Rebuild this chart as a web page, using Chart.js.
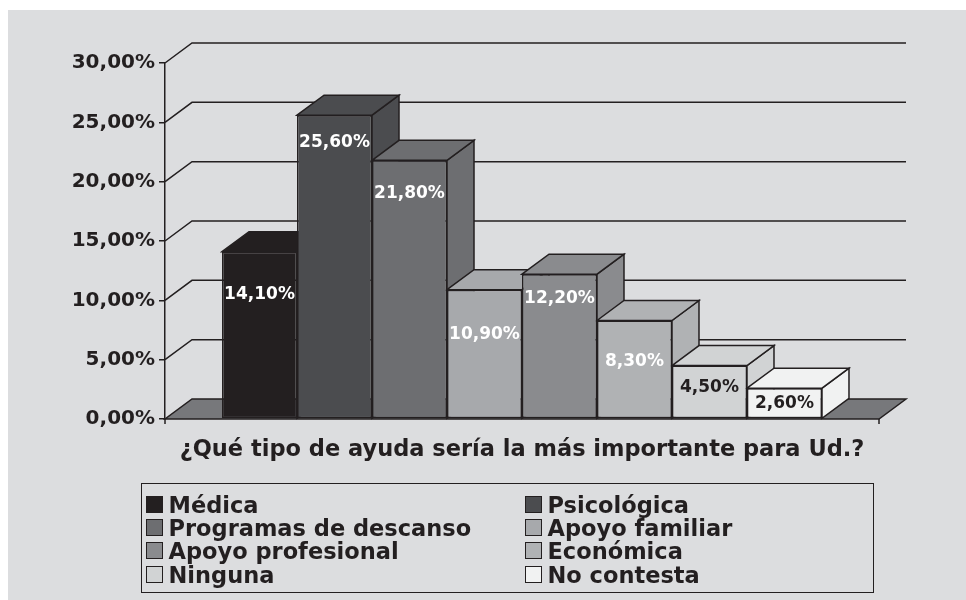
<!DOCTYPE html>
<html>
<head>
<meta charset="utf-8">
<script src="https://cdn.jsdelivr.net/npm/chart.js@4.4.1/dist/chart.umd.min.js"></script>
<style>
  html, body { margin: 0; padding: 0; background: #fff; width: 966px; height: 600px; overflow: hidden; }
  #bg { position: absolute; left: 8px; top: 10px; right: 0; bottom: 0; background: #dcdddf; }
  #wrap { position: absolute; left: 0; top: 0; width: 966px; height: 600px; }
  #legend { position: absolute; left: 141px; top: 483px; width: 733px; height: 110px; box-sizing: border-box;
            border: 1.5px solid #231f20; font: bold 22.5px 'DejaVu Sans', sans-serif; color: #231f20; }
  .li { position: absolute; white-space: nowrap; line-height: 24px; }
  .sw { display: inline-block; width: 17px; height: 17px; box-sizing: border-box; border: 1px solid #231f20;
        margin-right: 6px; vertical-align: baseline; }
</style>
</head>
<body>
<div id="bg"></div>
<div id="wrap"><canvas id="c" width="966" height="600"></canvas></div>
<div id="legend"></div>
<script>
/* 3D-look clustered column: one category, eight series, back wall + floor drawn by a plugin */
const axisTitle = "¿Qué tipo de ayuda sería la más importante para Ud.?";
const seriesNames = ["Médica", "Psicológica", "Programas de descanso", "Apoyo familiar",
                     "Apoyo profesional", "Económica", "Ninguna", "No contesta"];
const seriesValues = [14.1, 25.6, 21.8, 10.9, 12.2, 8.3, 4.5, 2.6];
const yTicks = [0, 5, 10, 15, 20, 25, 30];

// styles
const fills = ["#231f20", "#4b4c4f", "#6d6e71", "#a7a9ac", "#8a8b8e", "#b0b2b4", "#d1d3d4", "#f1f2f2"];
const labelInk = ["#fff", "#fff", "#fff", "#fff", "#fff", "#fff", "#231f20", "#231f20"];
const labelDy = [43, 27, 33, 45, 24, 41, 22, 15];   // label centre below bar top, px
const INK = "#231f20", FLOOR = "#77787b", DX = 27, DY = 20;
const FONT = "'DejaVu Sans', sans-serif";
const fmt = v => v.toFixed(2).replace(".", ",") + "%";

function poly(ctx, pts, fill) {
  ctx.beginPath();
  pts.forEach((p, i) => (i ? ctx.lineTo(p[0], p[1]) : ctx.moveTo(p[0], p[1])));
  ctx.closePath();
  ctx.fillStyle = fill; ctx.fill(); ctx.stroke();
}

const box3d = {
  id: "box3d",
  beforeDatasetsDraw(chart) {
    const { ctx, chartArea: a, scales: { y } } = chart;
    ctx.save();
    ctx.strokeStyle = INK; ctx.lineWidth = 1.5; ctx.lineJoin = "miter";
    // back wall gridlines + left wall diagonals
    y.ticks.forEach(t => {
      if (t.value === 0) return;
      const py = y.getPixelForValue(t.value);
      ctx.beginPath();
      ctx.moveTo(a.left, py); ctx.lineTo(a.left + DX, py - DY); ctx.lineTo(a.right + DX, py - DY);
      ctx.stroke();
    });
    // floor
    poly(ctx, [[a.left, a.bottom], [a.right, a.bottom], [a.right + DX, a.bottom - DY], [a.left + DX, a.bottom - DY]], FLOOR);
    // category axis end ticks
    ctx.beginPath();
    ctx.moveTo(a.left, a.bottom); ctx.lineTo(a.left, a.bottom + 5);
    ctx.moveTo(a.right, a.bottom); ctx.lineTo(a.right, a.bottom + 5);
    ctx.stroke();
    // side + top faces, left to right so the next bar hides the previous side
    chart.data.datasets.forEach((ds, i) => {
      const b = chart.getDatasetMeta(i).data[0];
      const l = b.x - b.width / 2, r = b.x + b.width / 2;
      poly(ctx, [[r, b.y], [r + DX, b.y - DY], [r + DX, b.base - DY], [r, b.base]], ds.backgroundColor);
      poly(ctx, [[l, b.y], [l + DX, b.y - DY], [r + DX, b.y - DY], [r, b.y]], ds.backgroundColor);
    });
    ctx.restore();
  },
  afterDatasetsDraw(chart) {
    const { ctx } = chart;
    ctx.save();
    ctx.font = "bold 17px " + FONT;
    ctx.textAlign = "center"; ctx.textBaseline = "middle";
    chart.data.datasets.forEach((ds, i) => {
      const b = chart.getDatasetMeta(i).data[0];
      ctx.fillStyle = labelInk[i];
      ctx.fillText(fmt(ds.data[0]), b.x, b.y + labelDy[i]);
    });
    ctx.restore();
  },
};

new Chart(document.getElementById("c"), {
  type: "bar",
  data: {
    labels: [""],
    datasets: seriesNames.map((name, i) => ({
      label: name, data: [seriesValues[i]], backgroundColor: fills[i],
      borderColor: INK, borderWidth: 1.5, borderSkipped: false,
    })),
  },
  options: {
    responsive: false, animation: false, events: [],
    layout: { padding: { left: 65, right: 87, top: 63, bottom: 136 } },
    datasets: { bar: { categoryPercentage: 0.8403, barPercentage: 1 } },
    plugins: { legend: { display: false }, tooltip: { enabled: false } },
    scales: {
      x: {
        grid: { display: false, drawTicks: false }, border: { display: false },
        ticks: { display: false },
        title: { display: true, text: axisTitle, color: INK, font: { family: FONT, weight: "bold", size: 22.5 }, padding: 0 },
        afterFit: s => { s.height = 45; },
      },
      y: {
        min: 0, max: 30,
        afterBuildTicks: s => { s.ticks = yTicks.map(v => ({ value: v })); },
        afterFit: s => { s.width = 100; },
        grid: { drawOnChartArea: false, drawTicks: true, tickLength: 6, color: INK, lineWidth: 1.5 },
        border: { display: true, color: INK, width: 1.5 },
        ticks: { padding: 4, color: INK, font: { family: FONT, weight: "bold", size: 20 }, callback: v => fmt(v) },
      },
    },
  },
  plugins: [box3d],
});

// legend: two columns, filled row by row
const lg = document.getElementById("legend");
seriesNames.forEach((name, i) => {
  const d = document.createElement("div");
  d.className = "li";
  d.style.left = (i % 2 ? 382.5 : 3.5) + "px";
  d.style.top = (8.7 + 23.33 * Math.floor(i / 2)) + "px";
  d.innerHTML = `<span class="sw" style="background:${fills[i]}"></span>${name}`;
  lg.appendChild(d);
});
</script>
</body>
</html>
